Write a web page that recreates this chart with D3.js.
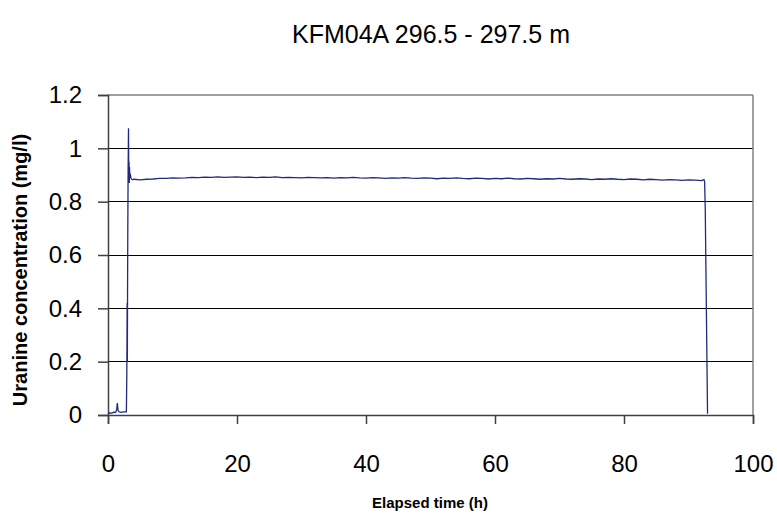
<!DOCTYPE html>
<html><head><meta charset="utf-8">
<script src="https://cdn.jsdelivr.net/npm/d3@7"></script>
<style>body{margin:0;background:#fff}svg{display:block}text{font-family:Arial,"Liberation Sans",sans-serif}</style>
</head><body><svg id="c" width="777" height="517"></svg>
<script>
const title = "KFM04A 296.5 - 297.5 m";
const xLabel = "Elapsed time (h)";
const yLabel = "Uranine concentration (mg/l)";
const xTicks = [0, 20, 40, 60, 80, 100];
const yTicks = [0, 0.2, 0.4, 0.6, 0.8, 1.0, 1.2];

// early part (start of injection)
const tEarly = [0, 0.3, 0.6, 0.9, 1.2, 1.35, 1.45, 1.55, 1.7, 2.0, 2.4, 2.85, 2.92, 2.97, 3.0, 3.03, 3.07, 3.12, 3.18, 3.22, 3.26, 3.3, 3.34, 3.38, 3.45, 3.55, 3.7, 3.85];
const cEarly = [0.004, 0.008, 0.007, 0.011, 0.010, 0.022, 0.045, 0.018, 0.012, 0.010, 0.012, 0.012, 0.16, 0.42, 0.20, 0.45, 0.70, 0.92, 1.075, 0.88, 0.95, 0.87, 0.93, 0.89, 0.905, 0.888, 0.884, 0.882];
// plateau, hourly from 4 h to 92 h
const tPlateau = d3.range(4, 93);
const cPlateau = [0.884,0.882,0.884,0.885,0.887,0.887,0.889,0.888,0.889,0.891,0.890,0.892,0.891,0.893,0.891,0.892,0.893,0.891,0.892,0.890,0.892,0.891,0.893,0.890,0.891,0.890,0.889,0.891,0.890,0.889,0.890,0.888,0.890,0.889,0.891,0.889,0.888,0.890,0.889,0.887,0.889,0.888,0.890,0.888,0.887,0.889,0.888,0.886,0.888,0.887,0.889,0.887,0.886,0.888,0.887,0.885,0.887,0.886,0.888,0.886,0.885,0.887,0.886,0.884,0.886,0.885,0.887,0.885,0.884,0.886,0.885,0.883,0.885,0.884,0.886,0.884,0.883,0.885,0.884,0.882,0.884,0.883,0.881,0.883,0.882,0.880,0.882,0.881,0.879];
// end of injection
const tEnd = [92.4, 92.5, 92.6, 92.95];
const cEnd = [0.883, 0.874, 0.77, 0.005];

const data = [];
tEarly.forEach((t,i)=>data.push([t,cEarly[i]]));
tPlateau.forEach((t,i)=>data.push([t,cPlateau[i]]));
tEnd.forEach((t,i)=>data.push([t,cEnd[i]]));

const svg = d3.select("#c");
const L=108, R=753, T=95, B=415;
const x = d3.scaleLinear().domain([0,100]).range([L,R]);
const y = d3.scaleLinear().domain([0,1.2]).range([B,T]);

// gridlines
svg.append("g").selectAll("line").data(yTicks.filter(v=>v>0 && v<1.2)).join("line")
  .attr("x1",L).attr("x2",R).attr("y1",d=>y(d)).attr("y2",d=>y(d))
  .attr("stroke","#000").attr("stroke-width",1).attr("shape-rendering","crispEdges");
// plot border (top, right)
svg.append("line").attr("x1",L).attr("x2",R).attr("y1",T).attr("y2",T).attr("stroke","#808080").attr("stroke-width",1.5);
svg.append("line").attr("x1",R).attr("x2",R).attr("y1",T).attr("y2",B).attr("stroke","#808080").attr("stroke-width",1.5);

// axes
const xAxis = svg.append("g").attr("transform",`translate(0,${B})`)
  .call(d3.axisBottom(x).tickValues(xTicks).tickSize(9).tickPadding(31).tickFormat(d3.format("d")));
const yAxis = svg.append("g").attr("transform",`translate(${L},0)`)
  .call(d3.axisLeft(y).tickValues(yTicks).tickSize(10).tickPadding(16).tickFormat(d=>d3.format("")(+d.toFixed(1))));
[xAxis,yAxis].forEach(g=>{
  g.select(".domain").attr("stroke","#404040").attr("stroke-width",1.5);
  g.selectAll(".tick line").attr("stroke","#404040").attr("stroke-width",1.5);
  g.selectAll(".tick text").attr("fill","#000").style("font-size","24px").style("font-family","Arial, 'Liberation Sans', sans-serif");
});

// data line
svg.append("path").datum(data)
  .attr("fill","none").attr("stroke","#232a7c").attr("stroke-width",1.3)
  .attr("d", d3.line().x(d=>x(d[0])).y(d=>y(d[1])));

// titles
svg.append("text").attr("x",431).attr("y",43).attr("text-anchor","middle")
  .style("font-size","25px").text(title);
svg.append("text").attr("x",430).attr("y",508).attr("text-anchor","middle")
  .style("font-size","15px").style("font-weight","bold").text(xLabel);
svg.append("text").attr("transform",`translate(27,270) rotate(-90)`).attr("text-anchor","middle")
  .style("font-size","20px").style("font-weight","bold").text(yLabel);
</script></body></html>
